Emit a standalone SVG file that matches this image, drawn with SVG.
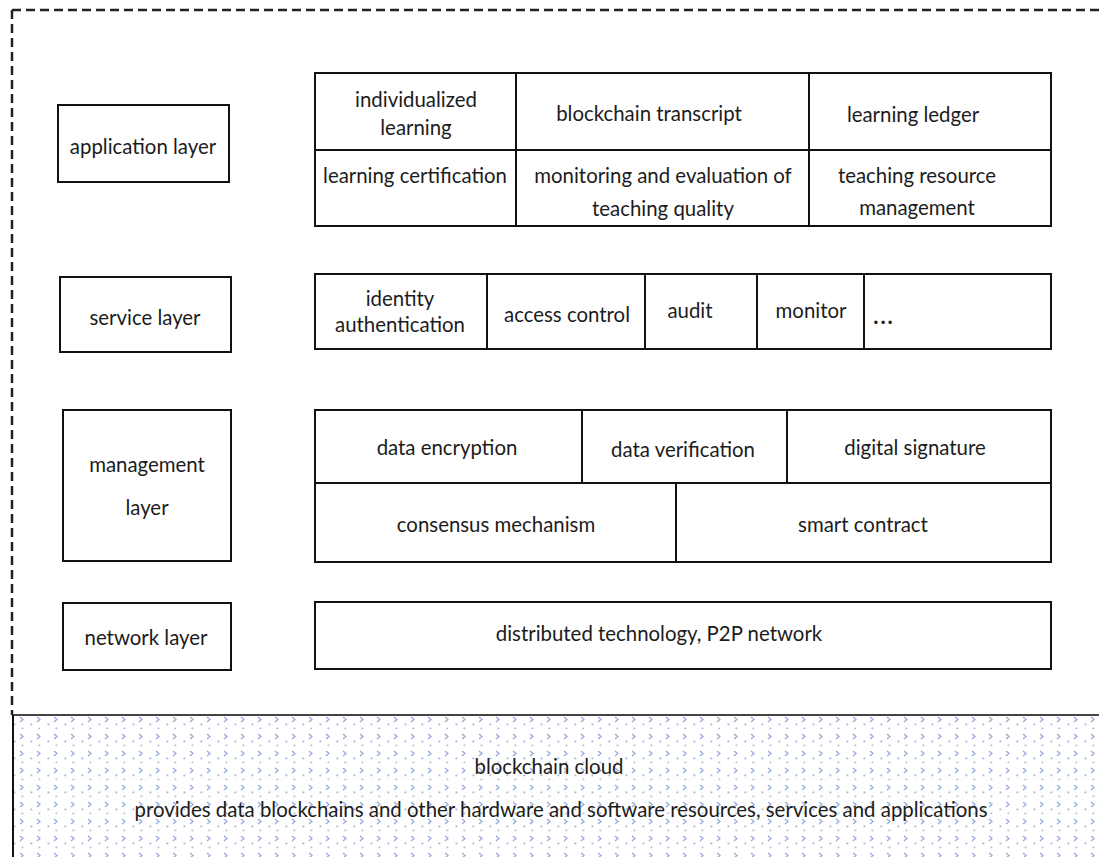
<svg xmlns="http://www.w3.org/2000/svg" width="1099" height="857" viewBox="0 0 1099 857">
<style>
.b{fill:#fff;stroke:#111;stroke-width:2}
.l{stroke:#111;stroke-width:2;fill:none}
text{font-family:Lato,"Open Sans","Liberation Sans",sans-serif;font-size:20.4px;fill:#1c1c1c;text-anchor:middle}
</style>
<defs>
<pattern id="conf" x="13" y="715" width="17" height="17" patternUnits="userSpaceOnUse">
<path d="M7 2 L10 4.5 L7 7" fill="none" stroke="#94acdb" stroke-width="1.3"/>
<rect x="0.5" y="8.5" width="1.8" height="1.8" fill="#a8b5cc"/>
<rect x="8.5" y="12.5" width="1.8" height="1.8" fill="#b6c2d8"/>
</pattern>
</defs>
<rect width="1099" height="857" fill="#fff"/>
<g id="frame">
<path d="M12 10 H1099 M12 10 V715" fill="none" stroke="#222" stroke-width="2.5" stroke-dasharray="9 5"/>
</g>
<g id="cloud">
<rect x="13" y="715" width="1086" height="142" fill="url(#conf)"/>
<path d="M13 715 H1099" stroke="#444" stroke-width="2"/>
<path d="M13 715 V857" stroke="#111" stroke-width="2"/>
<text x="549" y="774">blockchain cloud</text>
<text x="561" y="817">provides data blockchains and other hardware and software resources, services and applications</text>
</g>
<g id="application-layer">
<rect class="b" x="58" y="105" width="171" height="77"/>
<text x="143" y="154">application layer</text>
</g>
<g id="application-grid">
<rect class="b" x="315" y="73" width="736" height="153"/>
<path class="l" d="M315 150 H1051 M516 73 V226 M809 73 V226"/>
<text x="416" y="107">individualized</text>
<text x="416" y="135">learning</text>
<text x="649" y="121">blockchain transcript</text>
<text x="913" y="122">learning ledger</text>
<text x="415" y="183">learning certification</text>
<text x="663" y="183">monitoring and evaluation of</text>
<text x="663" y="216">teaching quality</text>
<text x="917" y="183">teaching resource</text>
<text x="917" y="215">management</text>
</g>
<g id="service-layer">
<rect class="b" x="60" y="277" width="171" height="75"/>
<text x="145" y="325">service layer</text>
</g>
<g id="service-grid">
<rect class="b" x="315" y="274" width="736" height="75"/>
<path class="l" d="M487 274 V349 M645 274 V349 M757 274 V349 M864 274 V349"/>
<text x="400" y="306">identity</text>
<text x="400" y="332">authentication</text>
<text x="567" y="322">access control</text>
<text x="690" y="318">audit</text>
<text x="811" y="318">monitor</text>
<text x="884" y="324" style="font-size:22px;font-weight:bold;letter-spacing:2px">...</text>
</g>
<g id="management-layer">
<rect class="b" x="63" y="410" width="168" height="151"/>
<text x="147" y="472">management</text>
<text x="147" y="515">layer</text>
</g>
<g id="management-grid">
<rect class="b" x="315" y="410" width="736" height="152"/>
<path class="l" d="M315 483 H1051 M582 410 V483 M787 410 V483 M676 483 V562"/>
<text x="447" y="455">data encryption</text>
<text x="683" y="457">data verification</text>
<text x="915" y="455">digital signature</text>
<text x="496" y="532">consensus mechanism</text>
<text x="863" y="532">smart contract</text>
</g>
<g id="network-layer">
<rect class="b" x="63" y="603" width="168" height="67"/>
<text x="146" y="645">network layer</text>
</g>
<g id="network-grid">
<rect class="b" x="315" y="602" width="736" height="67"/>
<text x="659" y="641">distributed technology, P2P network</text>
</g>
<g id="connectors"></g>
</svg>
